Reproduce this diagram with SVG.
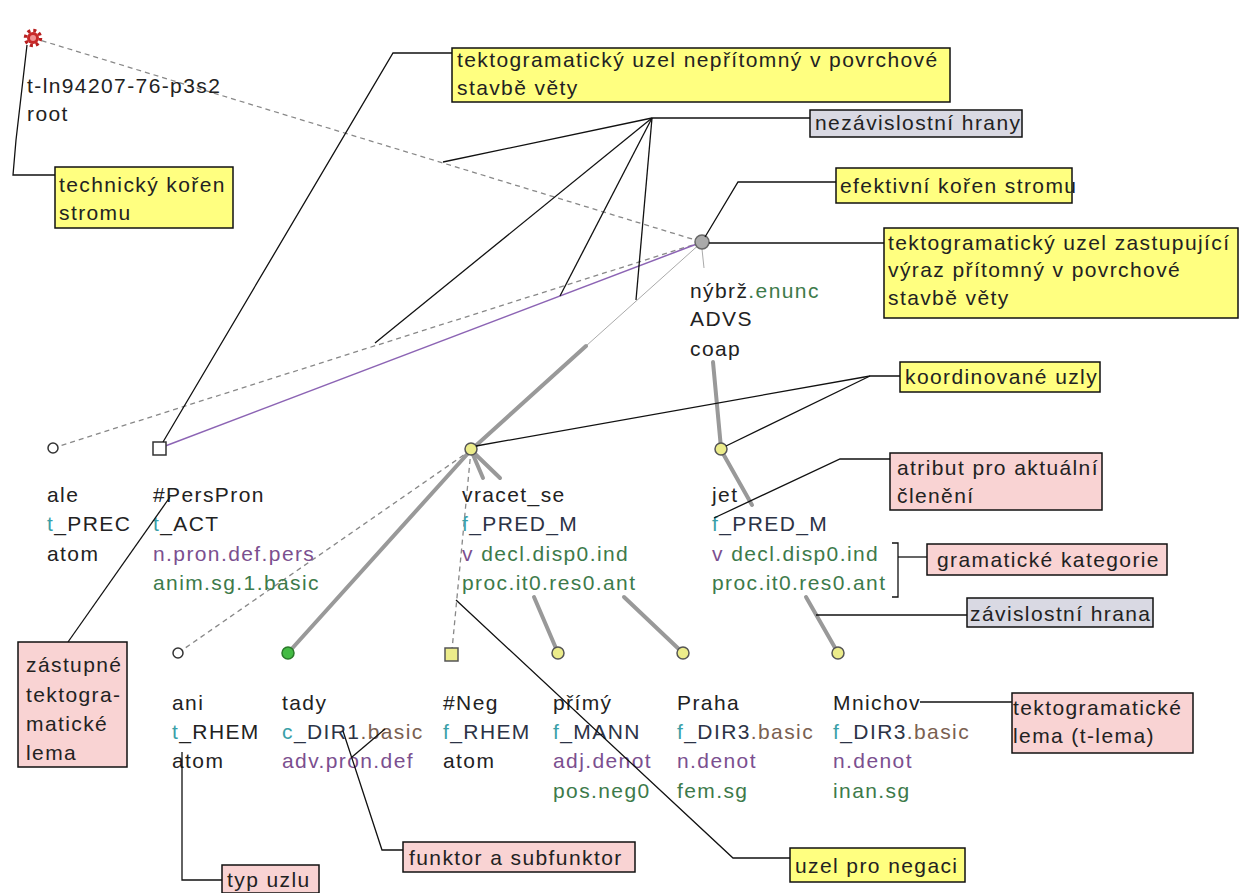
<svg xmlns="http://www.w3.org/2000/svg" width="1239" height="893" viewBox="0 0 1239 893">
<style>
.t{font-family:"Liberation Sans",Arial,sans-serif;font-size:21px;letter-spacing:1.4px;fill:#222}
.tfa{fill:#3a9fa8}.fn{fill:#2c3346}.sub{fill:#7a6050}.sem{fill:#7b4f8f}.gram{fill:#3d7a4a}
.by{fill:#ffff80;stroke:#111;stroke-width:1.5}
.bp{fill:#f9d3d3;stroke:#111;stroke-width:1.5}
.bg{fill:#d9d9e3;stroke:#111;stroke-width:1.5}
.lead{stroke:#111;stroke-width:1.3;fill:none}
.dash{stroke:#888;stroke-width:1.3;stroke-dasharray:5 4;fill:none}
.thick{stroke:#999;stroke-width:4;stroke-linecap:round;fill:none}
.thin{stroke:#aaa;stroke-width:1;fill:none}
.purple{stroke:#8c64b4;stroke-width:1.5;fill:none}
.nw{fill:#fff;stroke:#333;stroke-width:1.5}
.ny{fill:#ecec8a;stroke:#555;stroke-width:1.5}
</style>
<g id="edges">
<line class="dash" x1="33" y1="38" x2="702" y2="242"/>
<line class="dash" x1="53" y1="448" x2="702" y2="242"/>
<line class="purple" x1="160" y1="448" x2="702" y2="242"/>
<line class="thin" x1="702" y1="242" x2="586" y2="346"/>
<line class="thick" x1="586" y1="346" x2="471" y2="450"/>
<line class="thin" x1="702" y1="249" x2="704" y2="268"/>
<line class="thick" x1="713" y1="362" x2="721" y2="448"/>
<line class="dash" x1="471" y1="450" x2="178" y2="653"/>
<line class="thick" x1="471" y1="450" x2="288" y2="653"/>
<line class="dash" x1="471" y1="450" x2="452" y2="650"/>
<line class="thick" x1="471" y1="450" x2="483" y2="478"/>
<line class="thick" x1="534" y1="597" x2="558" y2="653"/>
<line class="thick" x1="471" y1="450" x2="500" y2="478"/>
<line class="thick" x1="624" y1="597" x2="683" y2="653"/>
<line class="thick" x1="721" y1="450" x2="752" y2="505"/>
<line class="thick" x1="806" y1="597" x2="838" y2="653"/>
</g>
<g id="node-root">
<circle cx="33" cy="38" r="7.5" fill="none" stroke="#b82020" stroke-width="3.5" stroke-dasharray="3 2.9"/>
<circle cx="33" cy="38" r="6" fill="#c82828"/>
<circle cx="33" cy="38" r="3" fill="#f09090"/>
<text class="t" x="27" y="93">t-ln94207-76-p3s2</text>
<text class="t" x="27" y="121">root</text>
</g>
<g id="node-nybrz">
<circle cx="702" cy="242" r="7" fill="#aaa" stroke="#666" stroke-width="1.5"/>
<text class="t" x="690" y="298">nýbrž<tspan class="gram">.enunc</tspan></text>
<text class="t" x="690" y="326">ADVS</text>
<text class="t" x="690" y="356">coap</text>
</g>
<g id="node-ale">
<circle class="nw" cx="53" cy="448" r="5"/>
<text class="t" x="47" y="502">ale</text>
<text class="t" x="47" y="531"><tspan class="tfa">t</tspan>_PREC</text>
<text class="t" x="47" y="561">atom</text>
</g>
<g id="node-perspron">
<rect class="nw" x="153" y="442" width="13" height="13"/>
<text class="t" x="153" y="502">#PersPron</text>
<text class="t" x="153" y="531"><tspan class="tfa">t</tspan>_ACT</text>
<text class="t sem" x="153" y="561">n.pron.def.pers</text>
<text class="t gram" x="153" y="590">anim.sg.1.basic</text>
</g>
<g id="node-vracet">
<circle class="ny" cx="471" cy="449" r="6"/>
<text class="t" x="462" y="502">vracet_se</text>
<text class="t fn" x="462" y="531"><tspan class="tfa">f</tspan>_PRED_M</text>
<text class="t gram" x="462" y="561"><tspan class="sem">v</tspan> decl.disp0.ind</text>
<text class="t gram" x="462" y="590">proc.it0.res0.ant</text>
</g>
<g id="node-jet">
<circle class="ny" cx="721" cy="449" r="6"/>
<text class="t" x="712" y="502">jet</text>
<text class="t fn" x="712" y="531"><tspan class="tfa">f</tspan>_PRED_M</text>
<text class="t gram" x="712" y="561"><tspan class="sem">v</tspan> decl.disp0.ind</text>
<text class="t gram" x="712" y="590">proc.it0.res0.ant</text>
</g>
<g id="node-ani">
<circle class="nw" cx="178" cy="653" r="5"/>
<text class="t" x="172" y="710">ani</text>
<text class="t" x="172" y="739"><tspan class="tfa">t</tspan>_RHEM</text>
<text class="t" x="172" y="768">atom</text>
</g>
<g id="node-tady">
<circle cx="288" cy="653" r="6" fill="#44bb44" stroke="#2a7a2a" stroke-width="1.5"/>
<text class="t" x="282" y="710">tady</text>
<text class="t fn" x="282" y="739"><tspan class="tfa">c</tspan>_DIR1<tspan class="sub">.basic</tspan></text>
<text class="t sem" x="282" y="768">adv.pron.def</text>
</g>
<g id="node-neg">
<rect class="ny" x="445" y="648" width="13" height="13"/>
<text class="t" x="443" y="710">#Neg</text>
<text class="t fn" x="443" y="739"><tspan class="tfa">f</tspan>_RHEM</text>
<text class="t" x="443" y="768">atom</text>
</g>
<g id="node-primy">
<circle class="ny" cx="558" cy="653" r="6"/>
<text class="t" x="553" y="710">přímý</text>
<text class="t fn" x="553" y="739"><tspan class="tfa">f</tspan>_MANN</text>
<text class="t sem" x="553" y="768">adj.denot</text>
<text class="t gram" x="553" y="798">pos.neg0</text>
</g>
<g id="node-praha">
<circle class="ny" cx="683" cy="653" r="6"/>
<text class="t" x="677" y="710">Praha</text>
<text class="t fn" x="677" y="739"><tspan class="tfa">f</tspan>_DIR3<tspan class="sub">.basic</tspan></text>
<text class="t sem" x="677" y="768">n.denot</text>
<text class="t gram" x="677" y="798">fem.sg</text>
</g>
<g id="node-mnichov">
<circle class="ny" cx="838" cy="653" r="6"/>
<text class="t" x="833" y="710">Mnichov</text>
<text class="t fn" x="833" y="739"><tspan class="tfa">f</tspan>_DIR3<tspan class="sub">.basic</tspan></text>
<text class="t sem" x="833" y="768">n.denot</text>
<text class="t gram" x="833" y="798">inan.sg</text>
</g>
<g id="annotation-leaders">
<polyline class="lead" points="27,45 16,140 13,175 55,175"/>
<polyline class="lead" points="163,442 393,53 452,53"/>
<line class="lead" x1="652" y1="118" x2="810" y2="118"/>
<line class="lead" x1="652" y1="118" x2="443" y2="162"/>
<line class="lead" x1="652" y1="118" x2="375" y2="343"/>
<line class="lead" x1="652" y1="118" x2="560" y2="296"/>
<line class="lead" x1="652" y1="118" x2="636" y2="300"/>
<polyline class="lead" points="705,237 738,182 836,182"/>
<line class="lead" x1="709" y1="243" x2="884" y2="243"/>
<polyline class="lead" points="476,446 870,376 900,376"/>
<line class="lead" x1="726" y1="446" x2="870" y2="376"/>
<polyline class="lead" points="714,518 840,459 890,459"/>
<polyline class="lead" points="892,543 898,543 898,597 892,597"/>
<line class="lead" x1="898" y1="557" x2="927" y2="557"/>
<line class="lead" x1="816" y1="615" x2="967" y2="615"/>
<line class="lead" x1="920" y1="702" x2="1012" y2="702"/>
<line class="lead" x1="170" y1="497" x2="68" y2="642"/>
<polyline class="lead" points="182,752 182,880 222,880"/>
<polyline class="lead" points="343,731 382,850 403,850"/>
<line class="lead" x1="352" y1="757" x2="385" y2="729"/>
<polyline class="lead" points="456,600 733,858 790,858"/>
</g>
<g id="box-technicky">
<rect class="by" x="55" y="167" width="178" height="61"/>
<text class="t" x="59" y="192">technický kořen</text>
<text class="t" x="59" y="220">stromu</text>
</g>
<g id="box-nepritomny">
<rect class="by" x="452" y="48" width="498" height="54"/>
<text class="t" x="457" y="67">tektogramatický uzel nepřítomný v povrchové</text>
<text class="t" x="457" y="95">stavbě věty</text>
</g>
<g id="box-nezavislostni">
<rect class="bg" x="810" y="110" width="212" height="27"/>
<text class="t" x="815" y="130">nezávislostní hrany</text>
</g>
<g id="box-efektivni">
<rect class="by" x="836" y="168" width="236" height="35"/>
<text class="t" x="840" y="193">efektivní kořen stromu</text>
</g>
<g id="box-zastupujici">
<rect class="by" x="884" y="228" width="354" height="90"/>
<text class="t" x="888" y="250">tektogramatický uzel zastupující</text>
<text class="t" x="888" y="277">výraz přítomný v povrchové</text>
<text class="t" x="888" y="305">stavbě věty</text>
</g>
<g id="box-koordinovane">
<rect class="by" x="900" y="362" width="200" height="30"/>
<text class="t" x="905" y="384">koordinované uzly</text>
</g>
<g id="box-atribut">
<rect class="bp" x="890" y="453" width="212" height="57"/>
<text class="t" x="897" y="475">atribut pro aktuální</text>
<text class="t" x="897" y="503">členění</text>
</g>
<g id="box-gramaticke">
<rect class="bp" x="927" y="544" width="240" height="31"/>
<text class="t" x="937" y="567">gramatické kategorie</text>
</g>
<g id="box-zavislostni">
<rect class="bg" x="967" y="598" width="186" height="29"/>
<text class="t" x="970" y="621">závislostní hrana</text>
</g>
<g id="box-tlema">
<rect class="bp" x="1012" y="693" width="181" height="60"/>
<text class="t" x="1013" y="715">tektogramatické</text>
<text class="t" x="1013" y="743">lema (t-lema)</text>
</g>
<g id="box-zastupne">
<rect class="bp" x="18" y="642" width="109" height="125"/>
<text class="t" x="26" y="672">zástupné</text>
<text class="t" x="26" y="702">tektogra-</text>
<text class="t" x="26" y="731">matické</text>
<text class="t" x="26" y="760">lema</text>
</g>
<g id="box-typ">
<rect class="bp" x="222" y="865" width="97" height="28"/>
<text class="t" x="227" y="887">typ uzlu</text>
</g>
<g id="box-funktor">
<rect class="bp" x="403" y="842" width="232" height="30"/>
<text class="t" x="409" y="865">funktor a subfunktor</text>
</g>
<g id="box-negace">
<rect class="by" x="790" y="848" width="175" height="34"/>
<text class="t" x="795" y="873">uzel pro negaci</text>
</g>
</svg>
